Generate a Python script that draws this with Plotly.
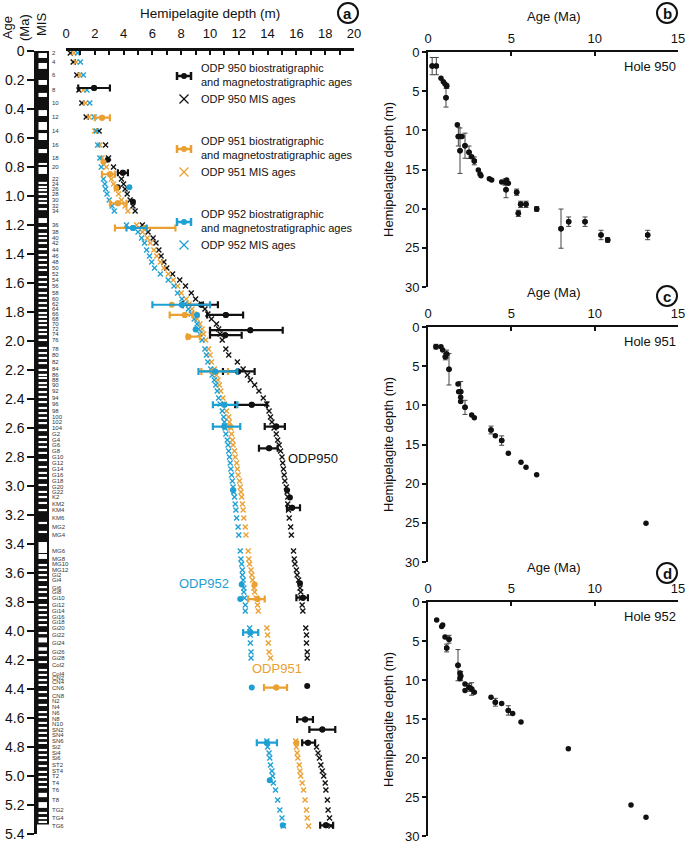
import plotly.graph_objects as go

W, H = 685, 842
FONT = "Liberation Sans, Arial, sans-serif"
BLACK = "#111111"
ORANGE = "#EBA032"
BLUE = "#1FA0D3"

# ---------------- panel a: MIS column ----------------
MIS_LABELS = ["2", "4", "6", "8", "10", "12", "14", "16", "18", "20", "22", "24", "26", "28", "30",
              "32", "34", "36", "38", "40", "42", "44", "46", "48", "50", "52", "54", "56", "58", "60",
              "62", "64", "66", "68", "70", "72", "74", "76", "78", "80", "82", "84", "86", "88", "90",
              "92", "94", "96", "98", "100", "102", "104", "G2", "G4", "G6", "G8", "G10", "G12", "G14",
              "G16", "G18", "G20", "G22", "K2", "KM2", "KM4", "KM6", "MG2", "MG4", "MG6", "MG8", "MG10",
              "MG12", "Gi2", "Gi4", "Gi6", "Gi8", "Gi10", "Gi12", "Gi14", "Gi16", "Gi18", "Gi20", "Gi22",
              "Gi24", "Gi26", "Gi28", "Col2", "Col4", "CN2", "CN4", "CN6", "CN8", "N2", "N4", "N6", "N8",
              "N10", "SN2", "SN4", "SN6", "Si2", "Si4", "Si6", "ST2", "ST4", "T2", "T4", "T6", "T8", "TG2",
              "TG4", "TG6"]
MIS_AGE = [0.014, 0.076, 0.166, 0.269, 0.359, 0.455, 0.552, 0.648, 0.738, 0.800, 0.883, 0.917, 0.952,
           0.986, 1.028, 1.069, 1.103, 1.200, 1.248, 1.290, 1.324, 1.372, 1.414, 1.455, 1.497, 1.538,
           1.579, 1.621, 1.669, 1.710, 1.745, 1.779, 1.814, 1.848, 1.883, 1.917, 1.952, 1.993, 2.055,
           2.097, 2.145, 2.193, 2.234, 2.269, 2.303, 2.345, 2.393, 2.434, 2.483, 2.524, 2.559, 2.600,
           2.641, 2.683, 2.717, 2.759, 2.800, 2.841, 2.883, 2.924, 2.966, 3.007, 3.041, 3.076, 3.124,
           3.166, 3.221, 3.283, 3.338, 3.448, 3.503, 3.538, 3.579, 3.614, 3.648, 3.703, 3.731, 3.772,
           3.821, 3.862, 3.903, 3.938, 3.979, 4.028, 4.083, 4.145, 4.186, 4.234, 4.297, 4.324, 4.352,
           4.393, 4.448, 4.483, 4.524, 4.566, 4.607, 4.641, 4.683, 4.717, 4.759, 4.800, 4.841, 4.876,
           4.924, 4.966, 5.000, 5.048, 5.097, 5.166, 5.234, 5.290, 5.345]

# white (interglacial) bands in the MIS column, age centres
THIN_BANDS = [0.910, 0.938, 0.959, 0.986, 1.021, 1.048, 1.090,
              1.221, 1.262, 1.290, 1.324, 1.366, 1.407, 1.441, 1.476, 1.510, 1.559, 1.593, 1.628,
              1.669, 1.703, 1.738, 1.772, 1.807, 1.834, 1.862, 1.890, 1.924, 1.952, 1.993, 2.048,
              2.083, 2.117, 2.152, 2.200, 2.234, 2.255, 2.290, 2.317, 2.352, 2.386, 2.421, 2.462,
              2.497, 2.531, 2.566, 2.614, 2.662, 2.697, 2.731, 2.772, 2.821, 2.869, 2.910, 2.945,
              2.993, 3.041, 3.076, 3.117, 3.166, 3.255, 3.317, 3.545, 3.579, 3.614, 3.648, 3.697,
              3.731, 3.772, 3.821, 3.855, 3.890, 3.924, 3.959, 4.014, 4.166, 4.214, 4.269, 4.303,
              4.338, 4.372, 4.421, 4.462, 4.510, 4.559, 4.593, 4.634, 4.669, 4.703, 4.738, 4.772,
              4.821, 4.855, 4.890, 4.931, 4.972, 5.007, 5.041, 5.076, 5.255, 5.290, 5.317]
WIDE_BANDS = [0.031, 0.103, 0.217, 0.303, 0.428, 0.517, 0.590, 0.690, 0.779, 0.824, 1.169,
              3.424, 3.486, 4.062, 4.124, 5.131, 5.200]
WIDE_BAND_SPAN = [0.034, 0.041, 0.034, 0.028, 0.041, 0.055, 0.048, 0.028, 0.014, 0.048, 0.034,
                  0.076, 0.034, 0.034, 0.024, 0.030, 0.040]
THIN_SPAN = 0.015
COLUMN_BASE = 5.335

# ---------------- panel a: MIS-age depths (m) ----------------
N = None
D950 = [0.3, 0.5, 0.75, 0.9, 1.1, 1.4, 2.3, 2.75, 2.95, 3.3, 3.85, 4.0, 4.1, 4.25, 4.45, 4.65, 4.8,
        5.3, 5.7, 6.05, 6.25, 6.45, 6.6, 6.8, 7.0, 7.4, 7.9, 8.3, 8.7, 9.0, 9.4, 9.65, 9.85, 10.1,
        10.45, 10.6, 10.7, 10.85, 11.1, 11.3, 11.9, 12.3, 12.6, 12.8, 13.1, 13.4, 13.7, 13.95, 14.1,
        14.2, 14.3, 14.45, 14.6, 14.7, 14.8, 14.9, 15.0, 15.05, 15.1, 15.15, 15.2, 15.3, 15.35, 15.4,
        15.4, 15.45, 15.5, 15.6, 15.65, 15.8, 15.85, 15.9, 16.0, 16.05, 16.15, 16.25, 16.3, 16.35,
        16.4, 16.45, N, N, 16.65, 16.7, 16.7, 16.75, 16.75, N, N, N, N, N, N, N, N, N, N, N, N, N, N,
        17.4, 17.5, 17.6, 17.7, 17.8, 17.9, 18.0, 18.05, 18.15, 18.2, 18.3, 18.4]
D951 = [0.55, 0.7, 0.95, 1.2, 1.35, 1.6, 2.0, 2.35, 2.5, 2.8, 3.15, 3.3, 3.5, 3.65, 3.85, 4.1, 4.3,
        4.9, 5.3, 5.65, 5.85, 6.1, 6.3, 6.55, 6.8, 7.1, 7.45, 7.75, 8.0, 8.35, 8.55, 8.75, 8.9, 9.1,
        9.3, 9.45, 9.55, 9.7, 9.9, 10.0, 10.1, 10.3, 10.45, 10.55, 10.65, 10.75, 10.9, 11.0, 11.15,
        11.3, 11.35, 11.45, 11.5, 11.55, 11.6, 11.7, 11.75, 11.85, 11.9, 11.95, 12.05, 12.1, 12.15,
        12.2, 12.25, 12.3, 12.35, 12.45, 12.5, 12.65, 12.7, 12.75, 12.85, 12.9, 12.95, 13.05, 13.1,
        13.2, 13.3, 13.35, N, N, 13.95, 14.0, 14.05, 14.1, 14.2, N, N, N, N, N, N, N, N, N, N, N, N, N,
        15.95, 16.0, 16.05, 16.1, 16.2, 16.25, 16.3, 16.4, 16.5, 16.6, 16.7, 16.75, 16.85]
D952 = [0.8, 1.0, 1.2, 1.45, 1.65, 1.95, 2.1, 2.2, 2.35, 2.45, 2.6, 2.7, 2.75, 2.85, 3.0, 3.2, 3.35,
        4.2, 5.0, 5.25, 5.45, 5.6, 5.8, 5.95, 6.15, 6.55, 7.1, 7.5, 7.75, 8.05, 8.25, 8.5, 8.7, 8.9,
        9.1, 9.2, 9.3, 9.45, 9.65, 9.75, 9.85, 10.05, 10.15, 10.3, 10.4, 10.5, 10.6, 10.7, 10.85,
        10.95, 11.0, 11.05, 11.1, 11.2, 11.25, 11.3, 11.35, 11.4, 11.45, 11.5, 11.55, 11.6, 11.65,
        11.7, 11.75, 11.8, 11.85, 11.95, 12.0, 12.1, 12.15, 12.2, 12.25, 12.25, 12.3, 12.35, 12.35,
        12.4, 12.45, 12.45, N, N, 12.75, 12.8, 12.8, 12.85, 12.85, N, N, N, N, N, N, N, N, N, N, N, N,
        N, 13.95, 14.0, 14.1, 14.15, 14.2, 14.3, 14.35, 14.4, 14.55, 14.7, 14.85, 15.0, 15.1]

# ---------------- panel a: biostratigraphic / magnetostratigraphic ages ----------------
BIO950_DEPTH = [1.95, 2.9, 3.95, 3.6, 4.65, 9.4, 11.1, 12.8, 11.05, 11.95, 12.9, 14.6, 14.1, 15.35,
                15.55, 15.7, 16.25, 16.45, 16.75, 16.6, 17.8, 16.8, 18.05]
BIO950_AGE = [0.255, 0.75, 0.84, 0.94, 1.04, 1.75, 1.82, 1.925, 1.96, 2.21, 2.44, 2.59, 2.74, 3.03,
              3.08, 3.15, 3.67, 3.77, 4.38, 4.61, 4.68, 4.77, 5.34]
BIO950_ERR_LO = [1.1, 0, 0.35, 0, 0, 1.3, 1.3, 2.8, 1.05, 1.05, 1.15, 0.8, 0.7, 0, 0, 0.35, 0, 0.45,
                 0, 0.55, 0.9, 0.4, 0.4]
BIO950_ERR_HI = [1.1, 0, 0.35, 0, 0, 1.15, 1.2, 2.25, 1.15, 1.15, 1.05, 0.6, 0.6, 0, 0, 0.55, 0, 0.35,
                 0, 0.55, 0.9, 0.5, 0.5]

BIO951_DEPTH = [2.5, 2.6, 3.05, 3.5, 3.6, 5.5, 7.35, 8.25, 8.5, 10.2, 11.4, 13.1, 13.3, 14.6, 16.0]
BIO951_AGE = [0.46, 0.765, 0.85, 0.945, 1.05, 1.22, 1.75, 1.82, 1.97, 2.21, 2.59, 3.68, 3.78, 4.39, 4.77]
BIO951_ERR_LO = [0.5, 0, 0.55, 0, 0.55, 2.1, 0, 1.05, 0.1, 0.8, 0, 0, 0.65, 0.85, 0]
BIO951_ERR_HI = [0.55, 0, 0.35, 0, 0.6, 2.1, 0, 0.55, 0.8, 1.05, 0, 0, 0.5, 0.75, 0]

BIO952_DEPTH = [4.4, 4.65, 8.05, 9.1, 9.0, 10.35, 11.0, 11.0, 11.6, 12.2, 12.1, 12.8, 12.9, 13.95,
                14.15, 15.05]
BIO952_AGE = [0.94, 1.22, 1.75, 1.82, 1.92, 2.21, 2.44, 2.59, 3.03, 3.68, 3.78, 4.01, 4.39, 4.77,
              5.03, 5.34]
BIO952_ERR_LO = [0, 0.45, 2.05, 0, 0, 1.15, 0.8, 0.8, 0, 0, 0, 0.5, 0, 0.7, 0, 0]
BIO952_ERR_HI = [0, 0.95, 1.95, 0, 0, 1.55, 0.9, 1.1, 0, 0, 0, 0.55, 0, 0.7, 0, 0]

# ---------------- panels b-d: age vs depth per hole ----------------
H950_AGE = [0.25, 0.5, 0.78, 0.92, 1.02, 1.12, 1.08, 1.76, 1.82, 1.96, 2.04, 1.92, 2.22, 2.46, 2.62,
            2.78, 3.02, 3.12, 3.18, 3.68, 3.82, 4.42, 4.62, 4.72, 4.82, 4.68, 5.32, 5.42, 5.56, 5.88,
            6.52, 7.98, 8.44, 9.42, 10.38, 10.78, 13.18]
H950_DEPTH = [1.8, 1.8, 3.36, 3.8, 4.1, 4.35, 5.83, 9.28, 10.8, 10.8, 10.8, 12.6, 11.96, 12.8, 13.36,
              13.9, 15.06, 15.57, 15.8, 16.17, 16.34, 16.6, 16.6, 16.34, 16.77, 17.6, 17.9, 20.6,
              19.45, 19.45, 20.04, 22.55, 21.66, 21.66, 23.36, 24.0, 23.36]
H950_ERR = [1.1, 1.1, 0, 0, 0, 0.3, 1.2, 0, 1.2, 0, 0, 2.9, 1.6, 0.8, 0, 0.5, 0, 0, 0, 0, 0, 0, 0.4,
            0, 0, 1.0, 0.4, 0.4, 0.4, 0.4, 0.3, 2.5, 0.6, 0.6, 0.6, 0.3, 0.6]

H951_AGE = [0.48, 0.78, 0.88, 1.04, 1.12, 1.26, 1.8, 1.84, 1.96, 1.96, 1.96, 2.22, 2.62, 2.78, 3.78,
            4.04, 4.42, 4.82, 5.58, 5.88, 6.52, 13.08]
H951_DEPTH = [2.51, 2.51, 2.94, 3.79, 3.45, 5.4, 7.28, 8.26, 8.26, 8.98, 9.5, 10.26, 11.23, 11.57,
              13.15, 13.87, 14.5, 16.13, 17.28, 17.91, 18.85, 25.06]
H951_ERR = [0.3, 0, 0, 0.4, 0.5, 2.0, 0, 0, 1.3, 0, 0, 0.9, 0, 0, 0.5, 0, 0.6, 0, 0, 0, 0, 0]

H952_AGE = [0.52, 0.82, 0.88, 1.02, 1.26, 1.12, 1.8, 1.92, 1.96, 1.92, 2.22, 2.22, 2.46, 2.62, 2.78,
            3.78, 4.04, 4.42, 4.82, 5.08, 5.58, 8.42, 12.18, 13.08]
H952_DEPTH = [2.3, 3.15, 2.94, 4.5, 4.77, 5.9, 8.1, 9.1, 9.5, 9.8, 10.5, 11.36, 10.94, 11.15, 11.57,
              12.2, 12.85, 13.0, 13.9, 14.3, 15.4, 18.8, 26.04, 27.6]
H952_ERR = [0, 0, 0, 0, 0.5, 0.5, 2.0, 0, 0.6, 0, 0, 0, 0.5, 0.8, 0, 0, 0.5, 0, 0.6, 0, 0, 0, 0, 0]

AGE_TICKS = [round(0.2 * i, 1) for i in range(28)]
AGE_TICKTEXT = ["0"] + [f"{v:.1f}" for v in AGE_TICKS[1:]]


def px(x):
    return x / W


def py(y):
    return 1 - y / H


fig = go.Figure()

# MIS-age crosses
for depths, color in [(D950, BLACK), (D951, ORANGE), (D952, BLUE)]:
    fig.add_trace(go.Scatter(
        x=depths, y=MIS_AGE, mode="markers", xaxis="x", yaxis="y",
        marker=dict(symbol="x-thin", size=5, line=dict(width=1.4, color=color)),
    ))

# biostratigraphic ages with error bars
for depth, age, lo, hi, color in [
    (BIO950_DEPTH, BIO950_AGE, BIO950_ERR_LO, BIO950_ERR_HI, BLACK),
    (BIO951_DEPTH, BIO951_AGE, BIO951_ERR_LO, BIO951_ERR_HI, ORANGE),
    (BIO952_DEPTH, BIO952_AGE, BIO952_ERR_LO, BIO952_ERR_HI, BLUE),
]:
    idx = [i for i in range(len(depth)) if lo[i] > 0 or hi[i] > 0]
    fig.add_trace(go.Scatter(
        x=[depth[i] for i in idx], y=[age[i] for i in idx], mode="markers",
        xaxis="x", yaxis="y", marker=dict(size=6, color=color),
        error_x=dict(type="data", symmetric=False, array=[hi[i] for i in idx],
                     arrayminus=[lo[i] for i in idx], color=color, thickness=2.2, width=3.5),
    ))
    fig.add_trace(go.Scatter(
        x=depth, y=age, mode="markers", xaxis="x", yaxis="y",
        marker=dict(size=6, color=color),
    ))

# panels b-d
for n, (ages, depths, errs) in enumerate([(H950_AGE, H950_DEPTH, H950_ERR),
                                          (H951_AGE, H951_DEPTH, H951_ERR),
                                          (H952_AGE, H952_DEPTH, H952_ERR)], start=2):
    idx = [i for i in range(len(ages)) if errs[i] > 0]
    fig.add_trace(go.Scatter(
        x=[ages[i] for i in idx], y=[depths[i] for i in idx], mode="markers",
        xaxis=f"x{n}", yaxis=f"y{n}", marker=dict(size=5.5, color=BLACK),
        error_y=dict(type="data", array=[errs[i] for i in idx], color="#444444",
                     thickness=1, width=2.5),
    ))
    fig.add_trace(go.Scatter(
        x=ages, y=depths, mode="markers", xaxis=f"x{n}", yaxis=f"y{n}",
        marker=dict(size=5.5, color=BLACK),
    ))

shapes = []
annotations = []

# MIS column
shapes.append(dict(type="rect", xref="paper", yref="y", x0=px(36), x1=px(49), y0=0, y1=COLUMN_BASE,
                   fillcolor=BLACK, line=dict(width=0), layer="above"))
for c in THIN_BANDS:
    shapes.append(dict(type="rect", xref="paper", yref="y", x0=px(38.5), x1=px(47), y0=c - THIN_SPAN / 2,
                       y1=c + THIN_SPAN / 2, fillcolor="white", line=dict(width=0), layer="above"))
for c, s in zip(WIDE_BANDS, WIDE_BAND_SPAN):
    shapes.append(dict(type="rect", xref="paper", yref="y", x0=px(38.5), x1=px(47), y0=c - s / 2,
                       y1=c + s / 2, fillcolor="white", line=dict(width=0), layer="above"))
for lab, a in zip(MIS_LABELS, MIS_AGE):
    annotations.append(dict(text=lab, xref="paper", yref="y", x=px(50), y=a, xanchor="left",
                            yanchor="middle", showarrow=False, font=dict(size=6, color="#333333")))


def legend_bar(cx, cy, color):
    w = 2.5
    shapes.append(dict(type="line", xref="paper", yref="paper", x0=px(cx - 7), x1=px(cx + 7),
                       y0=py(cy), y1=py(cy), line=dict(color=color, width=w)))
    for x in (cx - 7, cx + 7):
        shapes.append(dict(type="line", xref="paper", yref="paper", x0=px(x), x1=px(x),
                           y0=py(cy - 4), y1=py(cy + 4), line=dict(color=color, width=w)))
    shapes.append(dict(type="circle", xref="paper", yref="paper", x0=px(cx - 3), x1=px(cx + 3),
                       y0=py(cy - 3), y1=py(cy + 3), fillcolor=color, line=dict(color=color, width=0)))


def legend_cross(cx, cy, color):
    for s in (-1, 1):
        shapes.append(dict(type="line", xref="paper", yref="paper", x0=px(cx - 4.5), x1=px(cx + 4.5),
                           y0=py(cy - 4.5 * s), y1=py(cy + 4.5 * s), line=dict(color=color, width=1.3)))


def text(t, x, y, size=11, color=BLACK, xanchor="left", angle=0, align="left"):
    annotations.append(dict(text=t, xref="paper", yref="paper", x=px(x), y=py(y), xanchor=xanchor,
                            yanchor="middle", showarrow=False, textangle=angle, align=align,
                            font=dict(size=size, color=color)))


for hole, color, y0 in [("950", BLACK, 75), ("951", ORANGE, 148), ("952", BLUE, 221)]:
    legend_bar(184, y0 + 1, color)
    text(f"ODP {hole} biostratigraphic<br>and magnetostratigraphic ages", 199, y0)
    legend_cross(184, y0 + 24, color)
    text(f"ODP {hole} MIS ages", 199, y0 + 24)

text("ODP950", 313, 458, size=13, xanchor="center")
text("ODP952", 231, 583, size=13, color=BLUE, xanchor="right")
text("ODP951", 277, 668, size=13, color=ORANGE, xanchor="center")

text("Hemipelagite depth (m)", 210, 13, size=13.5, xanchor="center")
text("Age<br>(Ma)", 16, 27, size=13, xanchor="center", angle=-90, align="center")
text("MIS", 42, 25, size=13, xanchor="center", angle=-90)

for y_top, hole in [(52, "950"), (327, "951"), (602, "952")]:
    text("Age (Ma)", 553, y_top - 35, size=13, xanchor="center")
    text(f"Hole {hole}", 678, y_top + 14, size=13, xanchor="right")
    text("Hemipelagite depth (m)", 388, y_top + 118, size=13, xanchor="center", angle=-90)

for letter, cx, cy in [("a", 348, 13), ("b", 667, 13), ("c", 667, 296), ("d", 667, 573)]:
    shapes.append(dict(type="circle", xref="paper", yref="paper", x0=px(cx - 10), x1=px(cx + 10),
                       y0=py(cy - 10), y1=py(cy + 10), line=dict(color=BLACK, width=2)))
    text(f"<b>{letter}</b>", cx, cy, size=15, xanchor="center")

axis_common = dict(showline=True, linecolor=BLACK, showgrid=False, zeroline=False,
                   tickcolor=BLACK, fixedrange=True, automargin=False, ticklabeloverflow="allow")

layout = dict(
    width=W, height=H, margin=dict(l=0, r=0, t=0, b=0, autoexpand=False), showlegend=False,
    paper_bgcolor="white", plot_bgcolor="rgba(0,0,0,0)",
    font=dict(family=FONT, color=BLACK),
    xaxis=dict(domain=[px(66), px(354)], range=[0, 20], side="top", anchor="y",
               tickvals=list(range(0, 21, 2)), ticks="inside", ticklen=4, tickwidth=2, linewidth=2.5,
               tickfont=dict(size=13), ticklabelstandoff=5,
               minor=dict(dtick=1, ticks="inside", ticklen=4, tickwidth=2, tickcolor=BLACK),
               **axis_common),
    yaxis=dict(domain=[py(834), py(51)], range=[5.4, 0], anchor="free", position=px(35),
               tickvals=AGE_TICKS, ticktext=AGE_TICKTEXT, ticks="outside", ticklen=7, tickwidth=2,
               linewidth=2.5, tickfont=dict(size=14), **axis_common),
    shapes=shapes, annotations=annotations,
)
for n, (top, bottom) in zip([2, 3, 4], [(52, 287), (327, 562), (602, 836)]):
    layout[f"xaxis{n}"] = dict(domain=[px(428), px(678)], range=[0, 15], side="top", anchor=f"y{n}",
                               tickvals=[0, 5, 10, 15], ticks="inside", ticklen=4, tickwidth=2,
                               linewidth=2, tickfont=dict(size=13), ticklabelstandoff=2, **axis_common)
    layout[f"yaxis{n}"] = dict(domain=[py(bottom), py(top)], range=[30, 0], anchor=f"x{n}",
                               tickvals=[0, 5, 10, 15, 20, 25, 30], ticks="outside", ticklen=4,
                               tickwidth=2, linewidth=2, tickfont=dict(size=13), **axis_common)

fig.update_layout(**layout)
# the page's default 8px body margin would push the figure off the 685x842 window
fig.write_html("out.html", config={"displayModeBar": False},
               post_script="document.body.style.margin = '0';")
